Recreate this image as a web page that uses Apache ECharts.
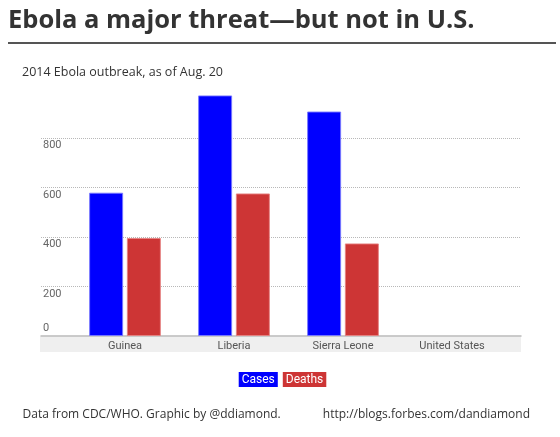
<!DOCTYPE html>
<html>
<head>
<meta charset="utf-8">
<script src="https://cdn.jsdelivr.net/npm/echarts@6/dist/echarts.min.js"></script>
<style>html,body{margin:0;padding:0;background:#fff}#c{width:560px;height:437px}</style>
</head>
<body>
<div id="c"></div>
<script>
const categories = ['Guinea', 'Liberia', 'Sierra Leone', 'United States'];
const cases = [579, 972, 907, 0];
const deaths = [396, 576, 374, 0];
const yTicks = [0, 200, 400, 600, 800];
const seriesNames = ['Cases', 'Deaths'];

const chart = echarts.init(document.getElementById('c'), null, {renderer: 'canvas'});
const narrow = "'Roboto', sans-serif";
const GT = 88.5, GB = 101;
const toItems = (arr) => arr.map(v => ({value: v, itemStyle: v === 0 ? {borderWidth: 0} : {}}));
chart.setOption({
  animation: false,
  backgroundColor: '#ffffff',
  title: [
    {text: 'Ebola a major threat\u2014but not in U.S.', left: 3, top: 3,
     textStyle: {fontFamily: "'Open Sans', sans-serif", fontWeight: 'bold', fontSize: 25.5, color: '#333333'}},
    {text: '2014 Ebola outbreak, as of Aug. 20', left: 17, top: 61,
     textStyle: {fontFamily: "'Open Sans', sans-serif", fontWeight: 'normal', fontSize: 12.5, color: '#333333'}},
    {text: 'Data from CDC/WHO. Graphic by @ddiamond.', left: 17.5, top: 404,
     textStyle: {fontFamily: "'Open Sans', sans-serif", fontWeight: 'normal', fontSize: 12, color: '#333333'}},
    {text: 'http://blogs.forbes.com/dandiamond', right: 25, top: 404,
     textStyle: {fontFamily: "'Open Sans', sans-serif", fontWeight: 'normal', fontSize: 12, color: '#333333'}}
  ],
  graphic: [
    {type: 'line', shape: {x1: 8, y1: 43, x2: 556, y2: 43}, style: {stroke: '#555555', lineWidth: 2}},
    {type: 'rect', z: -1, shape: {x: 40, y: 336.5, width: 481, height: 15.5}, style: {fill: '#efefef'}}
  ],
  legend: {
    data: seriesNames.map((n, i) => ({name: n, textStyle: {backgroundColor: i === 0 ? '#0000ff' : '#cd3535'}})),
    top: 366, left: 'center', itemWidth: 0, itemHeight: 0, itemGap: -2, icon: 'rect',
    selectedMode: false,
    textStyle: {color: '#ffffff', fontFamily: narrow, fontSize: 12, padding: [2, 3, 1, 3],
      borderColor: 'rgba(255,255,255,0.4)', borderWidth: 1}
  },
  grid: [
    {left: 41, right: 39, top: GT, bottom: GB},
    {left: 70.5, right: 53.5, top: GT, bottom: GB}
  ],
  xAxis: [
    {gridIndex: 0, type: 'value', min: 0, max: 1,
     axisLine: {show: true, lineStyle: {color: '#bbbbbb', width: 1.5}},
     axisTick: {show: false}, axisLabel: {show: false}, splitLine: {show: false}},
    {gridIndex: 1, type: 'category', data: categories,
     axisLine: {show: false}, axisTick: {show: false},
     axisLabel: {color: '#555555', fontFamily: narrow, fontSize: 11, margin: 5}}
  ],
  yAxis: [
    {gridIndex: 0, type: 'value', min: 0, max: 1000, interval: 200,
     axisLine: {show: false}, axisTick: {show: false},
     splitLine: {show: true, showMinLine: false, showMaxLine: false,
       lineStyle: {color: '#b8b8b8', type: [1, 1], width: 1}},
     axisLabel: {inside: true, margin: 2, align: 'left', showMaxLabel: false,
       formatter: v => yTicks.indexOf(v) === 0 ? '{b|' + v + '}' : '{a|' + v + '}',
       rich: {
         a: {color: '#666666', fontFamily: narrow, fontSize: 11, padding: [15, 0, 0, 0]},
         b: {color: '#666666', fontFamily: narrow, fontSize: 11, padding: [0, 0, 15, 0]}
       }}},
    {gridIndex: 1, type: 'value', min: 0, max: 1000, show: false}
  ],
  series: [
    {name: seriesNames[0], type: 'bar', xAxisIndex: 1, yAxisIndex: 1, data: toItems(cases),
     barWidth: 34, barGap: '11%',
     itemStyle: {color: '#0000ff', borderColor: 'rgba(120,120,255,0.9)', borderWidth: 1}},
    {name: seriesNames[1], type: 'bar', xAxisIndex: 1, yAxisIndex: 1, data: toItems(deaths),
     barWidth: 34, barGap: '11%',
     itemStyle: {color: '#cd3535', borderColor: 'rgba(230,130,130,0.9)', borderWidth: 1}}
  ]
});
</script>
</body>
</html>
